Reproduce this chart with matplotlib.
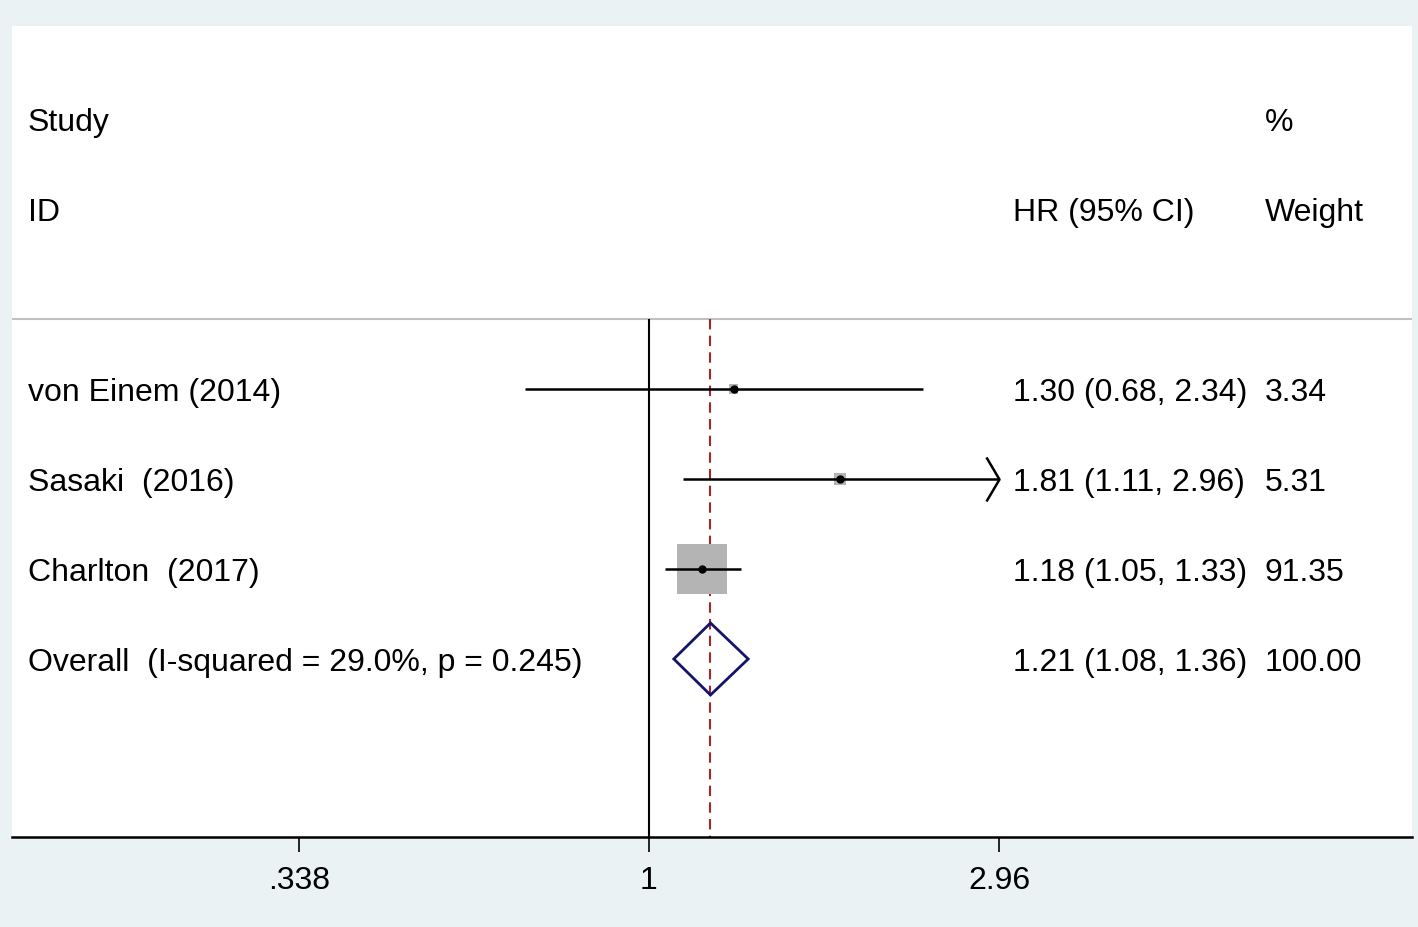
import numpy as np
import matplotlib
matplotlib.use("Agg")
import matplotlib.pyplot as plt
from matplotlib.path import Path

plt.rcParams["font.family"] = ["Liberation Sans", "DejaVu Sans"]

# study data
studies = ["von Einem (2014)", "Sasaki  (2016)", "Charlton  (2017)"]
hr = [1.30, 1.81, 1.18]
lo = [0.68, 1.11, 1.05]
hi = [2.34, 2.96, 1.33]
weights = [3.34, 5.31, 91.35]

overall_label = "Overall  (I-squared = 29.0%, p = 0.245)"
overall_hr, overall_lo, overall_hi = 1.21, 1.08, 1.36

tick_vals = [0.338, 1, 2.96]
tick_labels = [".338", "1", "2.96"]

bg = "#EAF2F3"
sq_color = "#B4B4B4"
diamond_color = "#14146A"
ref_color = "#A0282E"

fig = plt.figure(figsize=(14.18, 9.28), dpi=100, facecolor=bg)
ax = fig.add_axes([12 / 1418, 90 / 928, 1400 / 1418, 811 / 928])
ax.set_facecolor("white")
ax.set_xscale("log")
ax.set_xlim(0.1389, 10.64)
ax.set_ylim(4.978, -4.033)

fs = 23
for s in ["top", "left", "right"]:
    ax.spines[s].set_visible(False)
ax.spines["bottom"].set_linewidth(1.8)
ax.set_yticks([])
ax.set_xticks(tick_vals)
ax.set_xticklabels(tick_labels, fontsize=fs)
ax.minorticks_off()
ax.tick_params(axis="x", length=11, width=1.2, pad=9, direction="out")

rows = np.arange(len(studies))
overall_row = len(studies)
sep_y = -0.778
dy = 0.03  # small nudge so text sits on the row centre

# header
tr = ax.get_yaxis_transform()
x_id, x_hr, x_w = 0.0114, 0.715, 0.895
ax.text(x_id, -3 + dy, "Study", transform=tr, fontsize=fs, va="center")
ax.text(x_id, -2 + dy, "ID", transform=tr, fontsize=fs, va="center")
ax.text(x_hr, -2 + dy, "HR (95% CI)", transform=tr, fontsize=fs, va="center")
ax.text(x_w, -3 + dy, "%", transform=tr, fontsize=fs, va="center")
ax.text(x_w, -2 + dy, "Weight", transform=tr, fontsize=fs, va="center")
ax.axhline(sep_y, color="#C0C0C0", lw=1.5)

# reference lines
ax.vlines(1, sep_y, 4.978, color="black", lw=1.5, zorder=2)
ax.vlines(overall_hr, sep_y, 4.978, color=ref_color, lw=1.5,
          linestyles=(0, (5, 3)), zorder=2)

# squares sized by weight
side = 36 / np.sqrt(max(weights)) * np.sqrt(weights)
ax.scatter(hr, rows, marker="s", s=side ** 2, color=sq_color, lw=0, zorder=3)

xmax_tick = tick_vals[-1]
arrow = Path([(-13, 22), (0, 0), (-13, -22)], [Path.MOVETO, Path.LINETO, Path.LINETO])
for r, h, l, u, w, lab in zip(rows, hr, lo, hi, weights, studies):
    ax.plot([l, min(u, xmax_tick)], [r, r], color="black", lw=1.8, zorder=4,
            solid_capstyle="butt")
    if u >= xmax_tick:
        ax.plot([xmax_tick], [r], marker=arrow, markersize=31.7, color="black",
                fillstyle="none", markeredgewidth=1.8, zorder=4)
    ax.plot([h], [r], "o", color="black", markersize=5, zorder=5)
    ax.text(x_id, r + dy, lab, transform=tr, fontsize=fs, va="center")
    ax.text(x_hr, r + dy, f"{h:.2f} ({l:.2f}, {u:.2f})", transform=tr, fontsize=fs, va="center")
    ax.text(x_w, r + dy, f"{w:.2f}", transform=tr, fontsize=fs, va="center")

# overall diamond
dh = 0.4
ax.fill([overall_lo, overall_hr, overall_hi, overall_hr, overall_lo],
        [overall_row, overall_row - dh, overall_row, overall_row + dh, overall_row],
        facecolor="none", edgecolor=diamond_color, lw=2, zorder=4)
ax.text(x_id, overall_row + dy, overall_label, transform=tr, fontsize=fs, va="center")
ax.text(x_hr, overall_row + dy, f"{overall_hr:.2f} ({overall_lo:.2f}, {overall_hi:.2f})",
        transform=tr, fontsize=fs, va="center")
ax.text(x_w, overall_row + dy, f"{sum(weights):.2f}", transform=tr, fontsize=fs, va="center")

fig.savefig("out.png", dpi=100, facecolor=bg)
